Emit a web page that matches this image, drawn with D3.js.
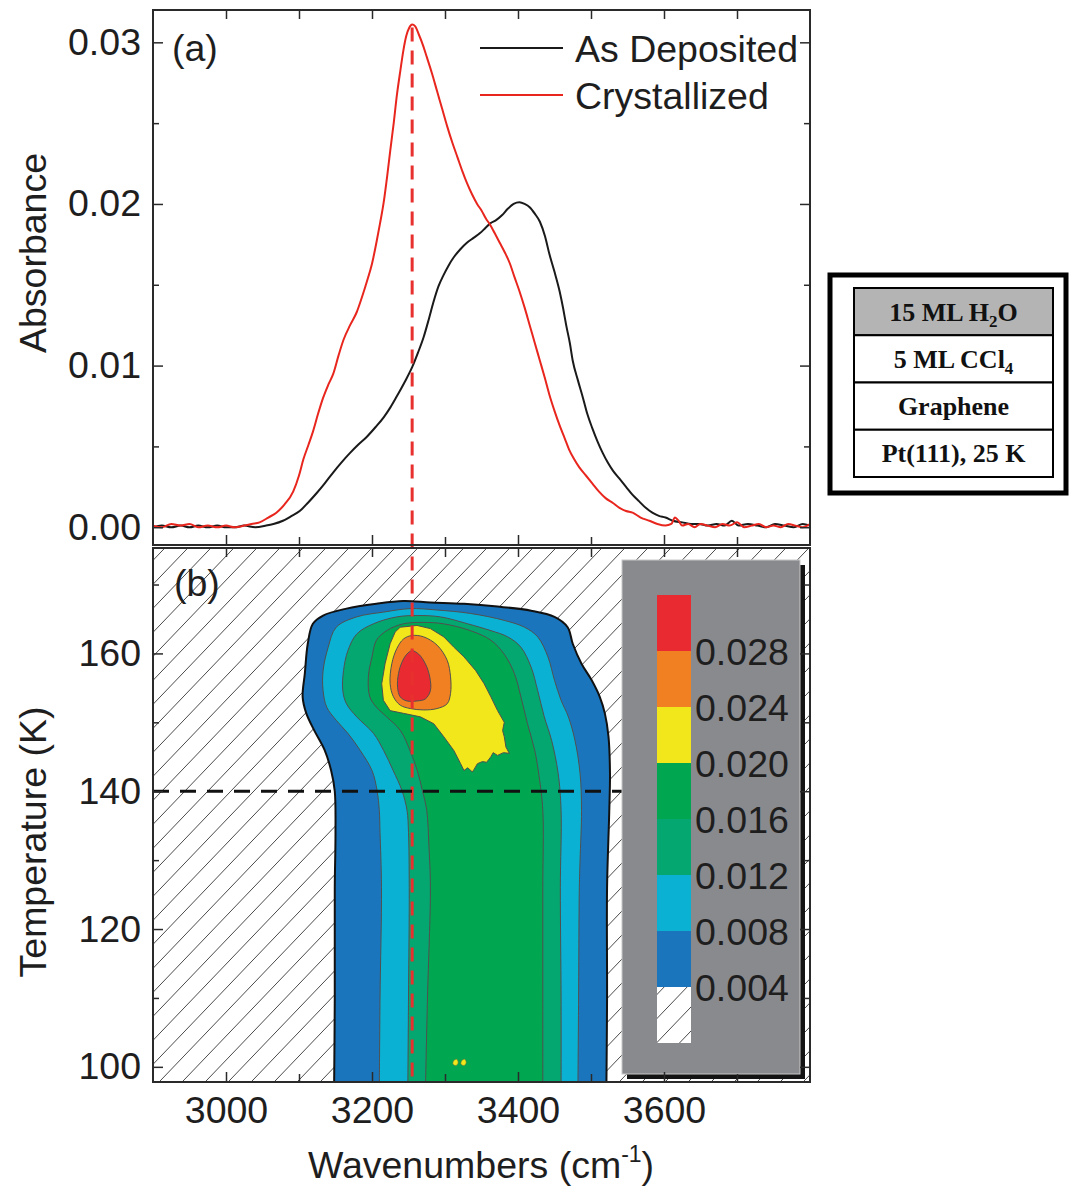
<!DOCTYPE html>
<html><head><meta charset="utf-8">
<script src="https://cdn.jsdelivr.net/npm/d3@7/dist/d3.min.js"></script>
<style>body{margin:0;background:#fff}svg{display:block}</style>
</head><body>
<svg id="chart" width="1070" height="1188"></svg>
<script>
// ---------------- DATA ----------------
// Panel (a): IR spectra [wavenumber (cm-1), absorbance]
const asDeposited = [
[2900,0.0000],[2912,0.0001],[2925,0.0000],[2938,0.0001],[2950,0.0000],[2962,0.0001],[2975,0.0000],[2988,0.0001],
[3000,0.0000],[3012,0.0000],[3025,0.0001],[3040,0.0000],[3055,0.0001],[3065,0.0002],[3078,0.0004],[3090,0.0007],
[3101,0.0010],[3112,0.0015],[3124,0.0021],[3135,0.0027],[3147,0.0034],[3158,0.0040],[3170,0.0046],[3181,0.0051],
[3193,0.0056],[3205,0.0062],[3216,0.0068],[3225,0.0074],[3234,0.0081],[3245,0.0090],[3255,0.0099],[3263,0.0108],
[3271,0.0118],[3278,0.0129],[3284,0.0139],[3291,0.0149],[3298,0.0156],[3305,0.0162],[3312,0.0167],[3321,0.0172],
[3330,0.0176],[3339,0.0179],[3348,0.0182],[3355,0.0185],[3362,0.0188],[3370,0.0190],[3378,0.0193],[3386,0.0197],
[3394,0.0200],[3402,0.0201],[3409,0.0200],[3416,0.0198],[3423,0.0194],[3430,0.0189],[3437,0.0180],[3443,0.0169],
[3450,0.0158],[3457,0.0146],[3462,0.0135],[3466,0.0125],[3471,0.0114],[3475,0.0103],[3482,0.0091],[3489,0.0080],
[3495,0.0070],[3502,0.0061],[3509,0.0053],[3516,0.0046],[3523,0.0040],[3530,0.0035],[3539,0.0030],[3548,0.0025],
[3557,0.0020],[3566,0.0016],[3575,0.0012],[3584,0.0009],[3593,0.0007],[3602,0.0006],[3612,0.0004],[3625,0.0003],
[3637,0.0002],[3648,0.0002],[3660,0.0001],[3672,0.0002],[3683,0.0001],[3693,0.0004],[3702,0.0001],[3715,0.0002],
[3728,0.0001],[3740,0.0000],[3752,0.0002],[3765,0.0001],[3778,0.0000],[3790,0.0002],[3800,0.0001]
];
const crystallized = [
[2900,0.0001],[2912,0.0000],[2925,0.0002],[2938,0.0001],[2950,0.0002],[2962,0.0000],[2975,0.0001],[2988,0.0000],
[3000,0.0001],[3012,0.0000],[3025,0.0001],[3035,0.0002],[3046,0.0003],[3058,0.0006],[3069,0.0009],[3080,0.0014],
[3092,0.0022],[3100,0.0032],[3106,0.0042],[3113,0.0051],[3119,0.0059],[3126,0.0070],[3133,0.0080],[3140,0.0088],
[3147,0.0095],[3154,0.0106],[3161,0.0116],[3170,0.0125],[3179,0.0133],[3186,0.0142],[3193,0.0152],[3200,0.0163],
[3206,0.0176],[3211,0.0188],[3216,0.0201],[3221,0.0218],[3225,0.0233],[3230,0.0251],[3234,0.0267],[3239,0.0283],
[3243,0.0295],[3247,0.0304],[3251,0.0309],[3255,0.0311],[3259,0.0310],[3264,0.0305],[3270,0.0298],[3275,0.0291],
[3282,0.0281],[3289,0.0270],[3296,0.0259],[3303,0.0248],[3310,0.0238],[3317,0.0229],[3324,0.0220],[3330,0.0213],
[3337,0.0206],[3344,0.0200],[3350,0.0196],[3356,0.0191],[3362,0.0187],[3368,0.0182],[3375,0.0176],[3382,0.0170],
[3389,0.0163],[3395,0.0155],[3402,0.0146],[3409,0.0136],[3416,0.0125],[3423,0.0114],[3430,0.0103],[3437,0.0092],
[3443,0.0082],[3450,0.0072],[3457,0.0063],[3464,0.0055],[3470,0.0048],[3477,0.0042],[3484,0.0037],[3493,0.0032],
[3502,0.0027],[3511,0.0022],[3520,0.0018],[3530,0.0015],[3539,0.0012],[3548,0.0010],[3557,0.0009],[3568,0.0006],
[3580,0.0004],[3591,0.0002],[3602,0.0001],[3610,0.0002],[3615,0.0006],[3620,0.0004],[3625,0.0001],[3633,0.0002],
[3642,0.0000],[3650,0.0002],[3660,0.0001],[3670,0.0000],[3680,0.0002],[3690,0.0001],[3700,0.0003],[3710,0.0000],
[3720,0.0001],[3730,0.0002],[3740,0.0000],[3750,0.0001],[3760,0.0000],[3770,0.0002],[3780,0.0001],[3790,0.0000],
[3800,0.0002]
];
const seriesNames = ["As Deposited", "Crystallized"];
const seriesColors = ["#1a1a1a", "#e8261e"];
const peakWavenumber = 3255;
const peakAbsorbance = 0.0311;
const markerTemperature = 140;

// Panel (b): contour boundaries [wavenumber, temperature (K)] for each level
const contourLevels = [0.004, 0.008, 0.012, 0.016, 0.020, 0.024, 0.028];
const contourColors = ["#1b75bc", "#0bb1d3", "#05a770", "#00a650", "#f1e71a", "#f18022", "#e92b31"];
const contour004 = [
[3148,96],[3149,110],[3149,126],[3150,134],[3149,140],[3144,143],[3135,146],[3121,148.8],[3110,151.3],[3105,153.7],
[3108,157.1],[3112,161.4],[3119,164.3],[3133,165.5],[3165,166.5],[3206,167.2],[3243,167.6],[3280,167.4],[3326,167.2],
[3372,166.8],[3418,166.2],[3450,165.3],[3468,163.8],[3475,161.4],[3487,158.5],[3501,156.1],[3512,153.7],[3519,151.3],
[3524,147.9],[3526,142.6],[3525,137],[3522,126],[3522,110],[3521,96]
];
const contour008 = [
[3210,96],[3211,110],[3213,126],[3211,134],[3210,137.2],[3207,140.1],[3200,143],[3184,145.9],[3167,148.4],[3151,150.3],
[3138,152.2],[3133,154.6],[3133,157.5],[3140,160.9],[3151,163.8],[3179,165.3],[3216,166],[3252,166.5],[3289,166.3],
[3335,165.8],[3381,164.8],[3409,163.8],[3427,162.4],[3441,159.5],[3450,156.1],[3459,153.2],[3469,150.8],[3478,147.4],
[3485,142.6],[3487,137.2],[3485,130],[3484,126],[3483,110],[3482,96]
];
const contour012 = [
[3249,96],[3250,110],[3251,126],[3250,134],[3248,137.2],[3241,140.1],[3229,143],[3216,145.9],[3202,148.4],[3179,150.8],
[3165,152.7],[3160,154.6],[3161,157.5],[3167,160.4],[3179,162.8],[3202,164.3],[3234,165.3],[3262,165.5],[3294,165.3],
[3331,164.3],[3363,163.3],[3386,162.4],[3404,160.9],[3418,158],[3427,154.6],[3436,150.8],[3446,147.4],[3455,142.6],
[3459,137.2],[3458,126],[3459,110],[3459,96]
];
const contour016 = [
[3273,96],[3276,110],[3280,126],[3278,132],[3275,137.2],[3269,140.1],[3262,143],[3252,145.9],[3239,148.8],[3220,150.8],
[3206,152.2],[3197,153.7],[3195,156.6],[3200,159.5],[3206,161.9],[3220,163.3],[3243,164.3],[3271,164.5],[3298,164.3],
[3335,163.3],[3363,161.9],[3381,159.9],[3395,157.1],[3404,153.7],[3413,149.8],[3423,145.9],[3429,142.1],[3434,137.2],
[3434,126],[3434,110],[3434,96]
];
const contour020 = [
[3238.6,163.8],[3261.6,164.06],[3280,163.6],[3298.4,162.4],[3312.2,160.9],[3326,159.5],[3342.1,157.5],[3353.6,155.6],
[3362.8,153.7],[3372,151.7],[3381.2,150],[3378.9,148.8],[3381.2,147.9],[3383.5,146.4],[3388.1,145.5],[3380,145.6],
[3372,145.2],[3366,145.6],[3362.8,145],[3357,144.2],[3351.3,144.3],[3344.4,144],[3340,143.2],[3337.5,142.8],[3331,143.4],
[3326,143],[3321.4,144],[3312.2,145.9],[3298.4,147.9],[3284.6,149.8],[3266.2,150.8],[3243.2,151.3],[3224.8,151.7],
[3215.6,153.2],[3213.3,155.6],[3217.9,158.5],[3224.8,161.4],[3231.7,163.1]
];
const contour020Islands = [
[[3312,100.9],[3316,101.1],[3318,100.6],[3315,100.2],[3311,100.4]],
[[3323,100.9],[3327,101.1],[3329,100.6],[3326,100.2],[3322,100.4]]
];
const contour024 = [
[3254.7,162.6],[3270.8,162.4],[3289.2,161.2],[3303,159],[3307.6,156.6],[3307.6,154.2],[3303,152.7],[3289.2,152],
[3270.8,151.8],[3252.4,152],[3238.6,152.5],[3229.4,153.7],[3224.8,155.6],[3227.1,158.5],[3234,160.7],[3243.2,162.1]
];
const contour028 = [
[3254.7,160.4],[3263.9,159.9],[3273.1,158.5],[3279.1,156.6],[3280,154.6],[3273.1,153.4],[3261.6,153.1],[3247.8,153.1],
[3238.6,153.7],[3235,155.1],[3236.3,157.1],[3240.9,158.7],[3247.8,159.9]
];
const contourPolygons = [contour004, contour008, contour012, contour016, contour020, contour024, contour028];
// the four outer levels run off the bottom of the plot (open at the bottom)
const openAtBottom = [true, true, true, true, false, false, false];

// Axis ticks
const wnTicks = [3000, 3200, 3400, 3600];
const wnMinorTicks = [3100, 3300, 3500, 3700];
const absTicks = [0.00, 0.01, 0.02, 0.03];
const absMinorTicks = [0.005, 0.015, 0.025];
const tempTicks = [100, 120, 140, 160];
const tempMinorTicks = [110, 130, 150, 170];
const colorbarLabels = ["0.028", "0.024", "0.020", "0.016", "0.012", "0.008", "0.004"];
const colorbarEdges = [0.000, 0.004, 0.008, 0.012, 0.016, 0.020, 0.024, 0.028, 0.032];

// Sample stack inset
const stackLayers = ["15 ML H|2|O", "5 ML CCl|4|", "Graphene", "Pt(111), 25 K"];

// ---------------- DRAW ----------------
const FONT = "'Liberation Sans', Arial, Helvetica, sans-serif";
const FS = 37.5;
const TXT = "#1e1e1e";
const svg = d3.select("#chart");
const defs = svg.append("defs");

const L = 153, R = 810;
const aTop = 10, aBot = 545, bTop = 548, bBot = 1082;

const x = d3.scaleLinear().domain([2900, 3800]).range([L, R]);
const yA = d3.scaleLinear().domain([-0.0011, 0.032]).range([aBot, aTop]);
const yB = d3.scaleLinear().domain([97.8, 175.3]).range([bBot, bTop]);

defs.append("clipPath").attr("id", "clipA").append("rect")
  .attr("x", L).attr("y", aTop).attr("width", R - L).attr("height", aBot - aTop);
defs.append("clipPath").attr("id", "clipB").append("rect")
  .attr("x", L).attr("y", bTop).attr("width", R - L).attr("height", bBot - bTop);

const HW = 23, HH = 24;
const hatch = defs.append("pattern").attr("id", "hatch")
  .attr("patternUnits", "userSpaceOnUse").attr("width", HW).attr("height", HH);
hatch.append("rect").attr("width", HW).attr("height", HH).attr("fill", "#fff");
hatch.append("path").attr("d", `M0,${HH} L${HW},0 M${-HW},${HH} L0,0 M${HW},${HH} L${2*HW},0`)
  .attr("stroke", "#4a4a4a").attr("stroke-width", 1).attr("fill", "none");

// ---- Panel (a) ----
const gA = svg.append("g").attr("clip-path", "url(#clipA)");
const line = d3.line().x(d => x(d[0])).y(d => yA(d[1])).curve(d3.curveMonotoneX);
[asDeposited, crystallized].forEach((s, i) => {
  gA.append("path").datum(s).attr("d", line)
    .attr("fill", "none").attr("stroke", seriesColors[i]).attr("stroke-width", 2);
});

// ---- Panel (b) ----
svg.append("rect").attr("x", L).attr("y", bTop).attr("width", R - L).attr("height", bBot - bTop)
  .attr("fill", "url(#hatch)");
const gB = svg.append("g").attr("clip-path", "url(#clipB)");
const smoothOpen = d3.line().x(d => x(d[0])).y(d => yB(d[1])).curve(d3.curveCatmullRom.alpha(0.5));
const smoothClosed = d3.line().x(d => x(d[0])).y(d => yB(d[1])).curve(d3.curveCatmullRomClosed.alpha(0.5));
const jagged = d3.line().x(d => x(d[0])).y(d => yB(d[1])).curve(d3.curveLinearClosed);
contourPolygons.forEach((poly, i) => {
  const d = openAtBottom[i] ? smoothOpen(poly) + "Z" : (i === 4 ? jagged(poly) : smoothClosed(poly));
  gB.append("path").attr("d", d)
    .attr("fill", contourColors[i])
    .attr("stroke", i === 0 ? "#111" : "#505050")
    .attr("stroke-width", i === 0 ? 2 : 1);
});
contour020Islands.forEach(p => {
  gB.append("path").attr("d", smoothClosed(p)).attr("fill", contourColors[4])
    .attr("stroke", "#8a7a30").attr("stroke-width", 0.6);
});

// dashed markers
svg.append("line")
  .attr("x1", x(peakWavenumber)).attr("x2", x(peakWavenumber))
  .attr("y1", yA(peakAbsorbance) + 3).attr("y2", bBot - 4)
  .attr("stroke", "#e8302f").attr("stroke-width", 3).attr("stroke-dasharray", "14,9");
svg.append("line")
  .attr("x1", L).attr("x2", 622)
  .attr("y1", yB(markerTemperature)).attr("y2", yB(markerTemperature))
  .attr("stroke", "#111").attr("stroke-width", 3).attr("stroke-dasharray", "16,11");

// ---- Colorbar ----
const cb = svg.append("g");
cb.append("rect").attr("x", 627).attr("y", 565).attr("width", 178).attr("height", 514).attr("fill", "#141414");
cb.append("rect").attr("x", 622).attr("y", 560).attr("width", 178).attr("height", 514)
  .attr("fill", "#898a8e").attr("stroke", "#c8c8c8").attr("stroke-width", 1);
const cbY = d3.scaleLinear().domain([0, 0.032]).range([1043, 595]);
const bandFills = ["url(#hatch)"].concat(contourColors);
for (let i = 0; i < colorbarEdges.length - 1; i++) {
  cb.append("rect").attr("x", 657).attr("width", 34)
    .attr("y", cbY(colorbarEdges[i + 1])).attr("height", cbY(colorbarEdges[i]) - cbY(colorbarEdges[i + 1]))
    .attr("fill", bandFills[i]);
}
cb.selectAll("text.cbl").data(colorbarLabels).enter().append("text")
  .attr("x", 695).attr("y", d => cbY(+d)).attr("dy", "0.36em")
  .attr("font-family", FONT).attr("font-size", FS).attr("fill", TXT).text(d => d);

// ---- Frames & axes ----
function styleAxis(g) {
  g.select(".domain").remove();
  g.attr("font-family", FONT).attr("font-size", FS).attr("color", "#2a2a2a");
  g.selectAll("line").attr("stroke-width", 1.5);
  g.selectAll("text").attr("fill", TXT);
}
function panelAxes(yScale, yMaj, yMin, top, bot, yFmt, withXLabels) {
  svg.append("g").attr("transform", `translate(${L},0)`)
    .call(d3.axisLeft(yScale).tickValues(yMaj).tickFormat(yFmt).tickSizeInner(-10).tickSizeOuter(0).tickPadding(12)).call(styleAxis);
  svg.append("g").attr("transform", `translate(${L},0)`)
    .call(d3.axisLeft(yScale).tickValues(yMin).tickFormat("").tickSizeInner(-6).tickSizeOuter(0)).call(styleAxis);
  svg.append("g").attr("transform", `translate(${R},0)`)
    .call(d3.axisRight(yScale).tickValues(yMaj).tickFormat("").tickSizeInner(-10).tickSizeOuter(0)).call(styleAxis);
  svg.append("g").attr("transform", `translate(${R},0)`)
    .call(d3.axisRight(yScale).tickValues(yMin).tickFormat("").tickSizeInner(-6).tickSizeOuter(0)).call(styleAxis);
  svg.append("g").attr("transform", `translate(0,${top})`)
    .call(d3.axisTop(x).tickValues(wnTicks.concat(wnMinorTicks)).tickFormat("").tickSizeInner(-9).tickSizeOuter(0)).call(styleAxis);
  svg.append("g").attr("transform", `translate(0,${bot})`)
    .call(d3.axisBottom(x).tickValues(wnTicks).tickFormat(withXLabels ? d3.format("d") : "").tickSizeInner(-10).tickSizeOuter(0).tickPadding(14)).call(styleAxis);
  svg.append("g").attr("transform", `translate(0,${bot})`)
    .call(d3.axisBottom(x).tickValues(wnMinorTicks).tickFormat("").tickSizeInner(-8).tickSizeOuter(0)).call(styleAxis);
  svg.append("rect").attr("x", L).attr("y", top).attr("width", R - L).attr("height", bot - top)
    .attr("fill", "none").attr("stroke", "#2a2a2a").attr("stroke-width", 2);
}
panelAxes(yA, absTicks, absMinorTicks, aTop, aBot, d3.format(".2f"), false);
panelAxes(yB, tempTicks, tempMinorTicks, bTop, bBot, d3.format("d"), true);

// ---- Labels ----
svg.append("text").attr("x", 172).attr("y", 61).attr("font-family", FONT).attr("font-size", FS).attr("fill", TXT).text("(a)");
svg.append("text").attr("x", 174).attr("y", 596).attr("font-family", FONT).attr("font-size", FS).attr("fill", TXT).text("(b)");

const legend = svg.append("g");
seriesNames.forEach((n, i) => {
  const yy = 48 + i * 47;
  legend.append("line").attr("x1", 480).attr("x2", 563).attr("y1", yy).attr("y2", yy)
    .attr("stroke", seriesColors[i]).attr("stroke-width", 2);
  legend.append("text").attr("x", 575).attr("y", yy).attr("dy", "0.36em")
    .attr("font-family", FONT).attr("font-size", FS).attr("fill", TXT).text(n);
});

svg.append("text").attr("transform", "translate(46,253) rotate(-90)").attr("text-anchor", "middle")
  .attr("font-family", FONT).attr("font-size", FS).attr("fill", TXT).text("Absorbance");
svg.append("text").attr("transform", "translate(46,842) rotate(-90)").attr("text-anchor", "middle")
  .attr("font-family", FONT).attr("font-size", FS).attr("fill", TXT).text("Temperature (K)");
const xl = svg.append("text").attr("x", 481).attr("y", 1178).attr("text-anchor", "middle")
  .attr("font-family", FONT).attr("font-size", FS).attr("fill", TXT);
xl.append("tspan").text("Wavenumbers (cm");
xl.append("tspan").attr("font-size", 23).attr("dy", -16).text("-1");
xl.append("tspan").attr("dy", 16).text(")");

// ---- Inset: sample stack ----
const ins = svg.append("g");
ins.append("rect").attr("x", 830).attr("y", 275).attr("width", 236).attr("height", 218)
  .attr("fill", "#fff").attr("stroke", "#000").attr("stroke-width", 5);
const rowY = d3.scaleBand().domain(d3.range(stackLayers.length)).range([288, 477]);
stackLayers.forEach((s, i) => {
  ins.append("rect").attr("x", 854).attr("y", rowY(i)).attr("width", 199).attr("height", rowY.bandwidth())
    .attr("fill", i === 0 ? "#b4b4b4" : "#fff").attr("stroke", "#000").attr("stroke-width", 2);
  const parts = s.split("|");
  const t = ins.append("text").attr("x", 953.5).attr("y", rowY(i) + rowY.bandwidth() / 2 + 9)
    .attr("text-anchor", "middle").attr("font-family", "'Liberation Serif', 'Times New Roman', serif")
    .attr("font-weight", "bold").attr("font-size", 26).attr("fill", "#111");
  t.append("tspan").text(parts[0]);
  if (parts.length > 1) {
    t.append("tspan").attr("font-size", 17).attr("dy", 6).text(parts[1]);
    if (parts[2]) t.append("tspan").attr("dy", -6).text(parts[2]);
  }
});
</script>
</body></html>
